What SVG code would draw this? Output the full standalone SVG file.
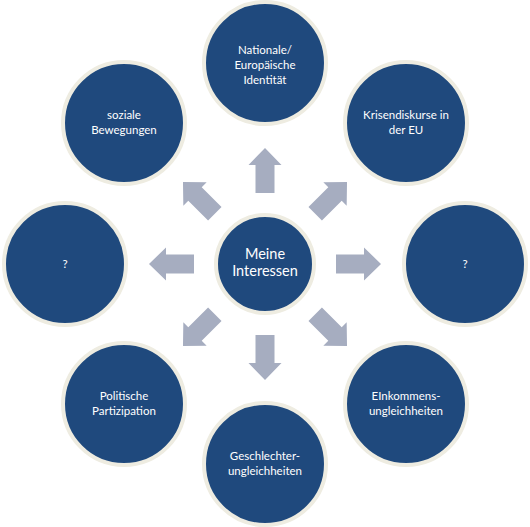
<svg xmlns="http://www.w3.org/2000/svg" xmlns:xlink="http://www.w3.org/1999/xlink" width="530" height="527" viewBox="0 0 530 527">
<style>
.c{fill:#1F497D;stroke:#EEECE1;stroke-width:4}
.t{fill:#FFFFFF;font-family:Lato,"Liberation Sans",sans-serif;font-size:11.5px;text-anchor:middle}
.tc{font-size:14.5px}
.a{fill:#A6ADC0}
</style>
<defs>
<path id="arr" d="M -9.5 -71 L -9.5 -99 L -16.5 -99 L 0 -116 L 16.5 -99 L 9.5 -99 L 9.5 -71 Z"/>
</defs>
<rect width="530" height="527" fill="#FFFFFF"/>
<g id="connectors" class="a">
<use xlink:href="#arr" transform="translate(265,264) rotate(0)"/>
<use xlink:href="#arr" transform="translate(265,264) rotate(45)"/>
<use xlink:href="#arr" transform="translate(265,264) rotate(90)"/>
<use xlink:href="#arr" transform="translate(265,264) rotate(135)"/>
<use xlink:href="#arr" transform="translate(265,264) rotate(180)"/>
<use xlink:href="#arr" transform="translate(265,264) rotate(225)"/>
<use xlink:href="#arr" transform="translate(265,264) rotate(270)"/>
<use xlink:href="#arr" transform="translate(265,264) rotate(315)"/>
</g>
<g id="center">
<circle class="c" cx="265" cy="264" r="49"/>
<text class="t tc" x="265" y="259">Meine</text>
<text class="t tc" x="265" y="276">Interessen</text>
</g>
<g id="n-top">
<circle class="c" cx="265" cy="63" r="61"/>
<text class="t" x="265" y="54">Nationale/</text>
<text class="t" x="265" y="69">Europäische</text>
<text class="t" x="265" y="84">Identität</text>
</g>
<g id="n-topright">
<circle class="c" cx="406" cy="123" r="61"/>
<text class="t" x="406" y="119">Krisendiskurse in</text>
<text class="t" x="406" y="134">der EU</text>
</g>
<g id="n-right">
<circle class="c" cx="465" cy="264" r="61"/>
<text class="t" x="465" y="268">?</text>
</g>
<g id="n-bottomright">
<circle class="c" cx="406" cy="404" r="61"/>
<text class="t" x="406" y="400">EInkommens-</text>
<text class="t" x="406" y="415">ungleichheiten</text>
</g>
<g id="n-bottom">
<circle class="c" cx="265" cy="464" r="61"/>
<text class="t" x="265" y="460">Geschlechter-</text>
<text class="t" x="265" y="475">ungleichheiten</text>
</g>
<g id="n-bottomleft">
<circle class="c" cx="124" cy="404" r="61"/>
<text class="t" x="124" y="400">Politische</text>
<text class="t" x="124" y="415">Partizipation</text>
</g>
<g id="n-left">
<circle class="c" cx="65" cy="264" r="61"/>
<text class="t" x="65" y="268">?</text>
</g>
<g id="n-topleft">
<circle class="c" cx="124" cy="123" r="61"/>
<text class="t" x="124" y="119">soziale</text>
<text class="t" x="124" y="134">Bewegungen</text>
</g>
</svg>
